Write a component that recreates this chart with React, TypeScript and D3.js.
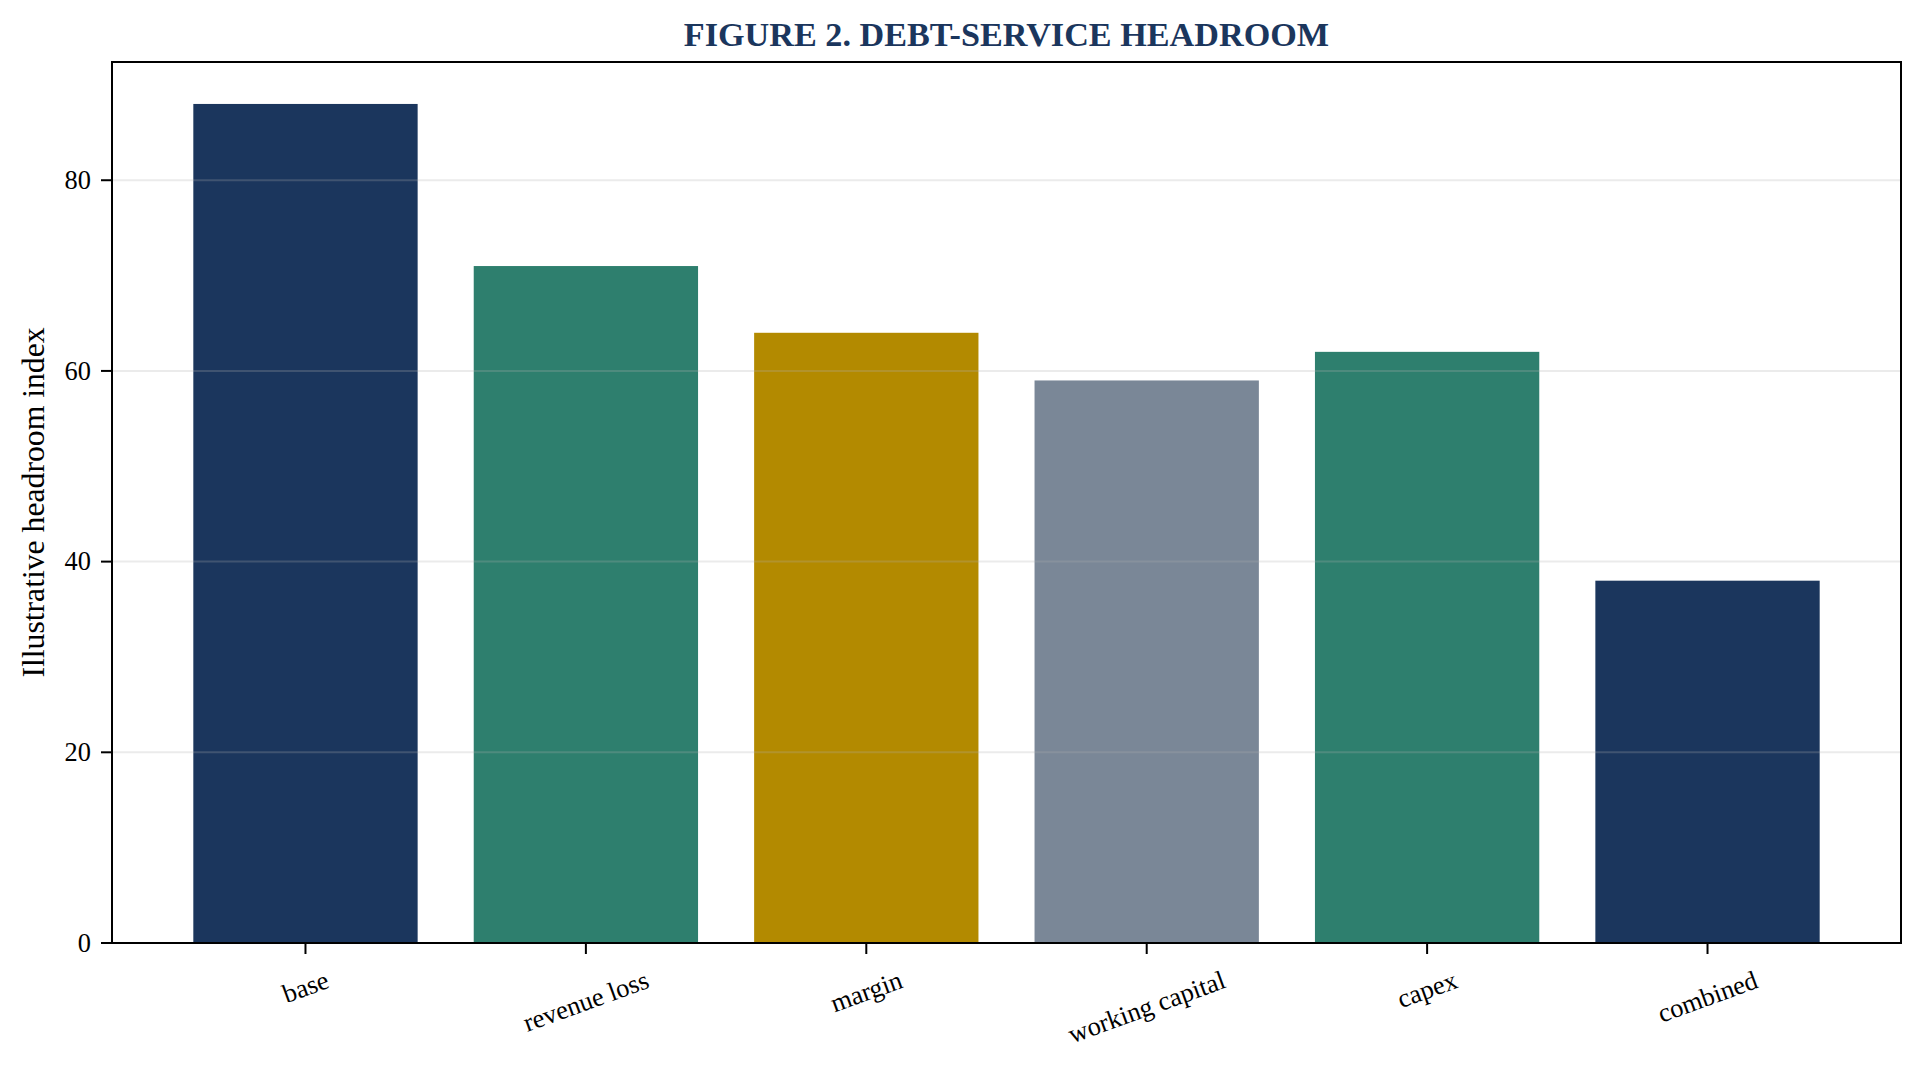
import React, { useEffect, useRef } from "react";
import * as d3 from "d3";

const categories = ["base", "revenue loss", "margin", "working capital", "capex", "combined"];
const values = [88, 71, 64, 59, 62, 38];
const barColors = ["#1b365d", "#2e7f6e", "#b38a00", "#7a8797", "#2e7f6e", "#1b365d"];
const yTicks = [0, 20, 40, 60, 80];
const titleText = "FIGURE 2. DEBT-SERVICE HEADROOM";
const yLabelText = "Illustrative headroom index";

const W = 1924;
const H = 1077;
const FONT = "'Liberation Serif', 'Times New Roman', serif";

export default function App() {
  const ref = useRef<SVGSVGElement | null>(null);

  useEffect(() => {
    document.body.style.margin = "0";
    const svg = d3.select(ref.current);
    svg.selectAll("*").remove();

    const left = 112, right = 1901, top = 62, bottom = 943;
    const x = d3.scaleBand<string>().domain(categories).range([left, right]).paddingInner(0.2).paddingOuter(0.29);
    const yMax = d3.max(values)! * 1.05;
    const y = d3.scaleLinear().domain([0, yMax]).range([bottom, top]);

    svg.append("rect").attr("width", W).attr("height", H).attr("fill", "#ffffff");

    // bars
    svg.append("g").selectAll("rect").data(values).join("rect")
      .attr("x", (_d, i) => x(categories[i])!)
      .attr("width", x.bandwidth())
      .attr("y", (d) => y(d))
      .attr("height", (d) => y(0) - y(d))
      .attr("fill", (_d, i) => barColors[i]);

    // grid (above bars, translucent)
    svg.append("g").selectAll("line").data(yTicks.filter((t) => t > 0)).join("line")
      .attr("x1", left).attr("x2", right)
      .attr("y1", (d) => y(d)).attr("y2", (d) => y(d))
      .attr("stroke", "#b0b0b0").attr("stroke-opacity", 0.25).attr("stroke-width", 2);

    // frame
    svg.append("rect").attr("x", left).attr("y", top).attr("width", right - left).attr("height", bottom - top)
      .attr("fill", "none").attr("stroke", "#000").attr("stroke-width", 2);

    // y ticks
    const yt = svg.append("g");
    yTicks.forEach((t) => {
      yt.append("line").attr("x1", left - 11).attr("x2", left).attr("y1", y(t)).attr("y2", y(t))
        .attr("stroke", "#000").attr("stroke-width", 2);
      yt.append("text").attr("x", left - 21).attr("y", y(t)).attr("dy", "0.33em")
        .attr("text-anchor", "end").attr("font-family", FONT).attr("font-size", 26.4).attr("fill", "#000")
        .text(String(t));
    });

    // x ticks + rotated labels
    const xt = svg.append("g");
    const theta = (20 * Math.PI) / 180;
    const fs = 26.4;
    categories.forEach((c) => {
      const cx = x(c)! + x.bandwidth() / 2;
      xt.append("line").attr("x1", cx).attr("x2", cx).attr("y1", bottom).attr("y2", bottom + 11)
        .attr("stroke", "#000").attr("stroke-width", 2);
      const t = xt.append("text").attr("font-family", FONT).attr("font-size", fs).attr("fill", "#000")
        .attr("text-anchor", "middle").text(c);
      const w = (t.node() as SVGTextElement).getComputedTextLength();
      const h = fs * 1.107;
      const bboxH = w * Math.sin(theta) + h * Math.cos(theta);
      const cy = bottom + 11 + 11 + bboxH / 2;
      t.attr("transform", `translate(${cx},${cy}) rotate(-20)`).attr("dy", 0.3375 * fs);
    });

    // y label
    svg.append("text")
      .attr("transform", `translate(44,${(top + bottom) / 2}) rotate(-90)`)
      .attr("text-anchor", "middle").attr("font-family", FONT).attr("font-size", 31.7).attr("fill", "#000")
      .text(yLabelText);

    // title
    svg.append("text").attr("x", (left + right) / 2).attr("y", 46)
      .attr("text-anchor", "middle").attr("font-family", FONT).attr("font-size", 34.2)
      .attr("font-weight", "bold").attr("fill", "#1b365d").text(titleText);
  }, []);

  return <svg ref={ref} width={W} height={H} style={{ display: "block" }} />;
}
